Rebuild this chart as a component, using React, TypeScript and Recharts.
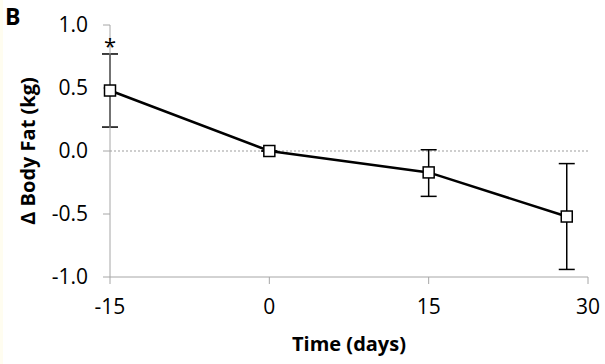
import React from 'react';
import { LineChart, Line, XAxis, YAxis, ReferenceLine, ReferenceDot, ErrorBar } from 'recharts';

const days = [-15, 0, 15, 28];
const bodyFat = [0.48, 0.0, -0.17, -0.52];
const errLower = [0.29, 0, 0.19, 0.42];
const errUpper = [0.29, 0, 0.18, 0.42];
const xTicks = [-15, 0, 15, 30];
const yTicks = [-1, -0.5, 0, 0.5, 1];
const sigIndex = 0;

const data = days.map((d, i) => ({ day: d, fat: bodyFat[i], err: [errLower[i], errUpper[i]] }));

const FONT = '"Open Sans", "DejaVu Sans", sans-serif';
const AXIS_GRAY = '#a6a6a6';

const SquareDot = (props: any) => {
  const { cx, cy } = props;
  if (cx == null || cy == null) return null;
  return <rect x={cx - 5.5} y={cy - 5.5} width={11} height={11} fill="#fff" stroke="#000" strokeWidth={1.5} />;
};

export default function App() {
  return (
    <div style={{ position: 'absolute', left: 0, top: 0, width: 605, height: 364, background: '#fff', fontFamily: FONT }}>
      <div style={{ position: 'absolute', left: 0, top: 0, width: 3, height: 364, background: '#fffdf0' }} />
      <div style={{ position: 'absolute', left: 5, top: 1, fontSize: 23, fontWeight: 700, color: '#000', lineHeight: '30px' }}>B</div>
      <LineChart width={605} height={364} data={data} margin={{ top: 25, right: 17, bottom: 0, left: 0 }}>
        <XAxis
          dataKey="day"
          type="number"
          domain={[-15, 30]}
          ticks={xTicks}
          interval={0}
          stroke={AXIS_GRAY}
          tickLine={{ stroke: AXIS_GRAY }}
          tickSize={7}
          tick={{ fill: '#000', fontSize: 21, fontFamily: FONT }}
          tickMargin={15}
          height={87}
          label={{ value: 'Time (days)', position: 'insideBottom', offset: 13, style: { fontSize: 20, fontWeight: 700, fill: '#000', fontFamily: FONT } }}
        />
        <YAxis
          type="number"
          domain={[-1, 1]}
          ticks={yTicks}
          interval={0}
          stroke={AXIS_GRAY}
          tickLine={{ stroke: AXIS_GRAY }}
          tickSize={7}
          tickMargin={15}
          tick={{ fill: '#000', fontSize: 21, fontFamily: FONT }}
          tickFormatter={(v: number) => v.toFixed(1)}
          width={110}
          label={{ value: 'Δ Body Fat (kg)', angle: -90, position: 'insideLeft', offset: 28, style: { fontSize: 20, fontWeight: 700, fill: '#000', fontFamily: FONT, textAnchor: 'middle' } }}
        />
        <ReferenceLine y={0} stroke="#bfbfbf" strokeDasharray="2 2" strokeWidth={1.5} />
        <Line
          dataKey="fat"
          stroke="#000"
          strokeWidth={2.5}
          dot={<SquareDot />}
          activeDot={false}
          isAnimationActive={false}
        >
          <ErrorBar dataKey="err" direction="y" width={8} stroke="#000" strokeWidth={1.5} />
        </Line>
        <ReferenceDot
          x={days[sigIndex]}
          y={bodyFat[sigIndex] + errUpper[sigIndex]}
          r={0}
          stroke="none"
          fill="none"
          label={{ value: '*', position: 'top', offset: 0, style: { fontSize: 22, fill: '#000', fontFamily: FONT } }}
        />
      </LineChart>
    </div>
  );
}
